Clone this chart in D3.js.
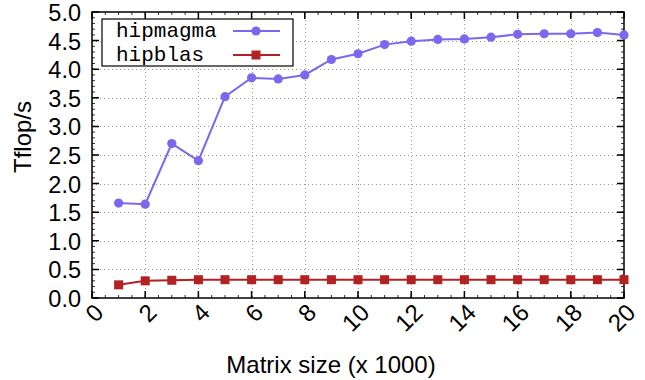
<!DOCTYPE html>
<html>
<head>
<meta charset="utf-8">
<script src="https://d3js.org/d3.v7.min.js"></script>
<style>
  body { margin: 0; background: #fff; }
  text { font-family: "Liberation Sans", Helvetica, Arial, sans-serif; fill: #000; }
</style>
</head>
<body>
<svg id="chart" width="645" height="380"></svg>
<script>
// data
const sizes = [1,2,3,4,5,6,7,8,9,10,11,12,13,14,15,16,17,18,19,20];
const hipmagma = [1.66,1.64,2.70,2.40,3.52,3.85,3.83,3.90,4.17,4.27,4.43,4.49,4.52,4.53,4.56,4.61,4.62,4.62,4.64,4.60];
const hipblas = [0.23,0.30,0.31,0.32,0.32,0.32,0.32,0.32,0.32,0.32,0.32,0.32,0.32,0.32,0.32,0.32,0.32,0.32,0.32,0.32];
const xTicks = [0,2,4,6,8,10,12,14,16,18,20];
const yTicks = [0,0.5,1,1.5,2,2.5,3,3.5,4,4.5,5];
const seriesNames = ['hipmagma', 'hipblas'];
const seriesColors = ['#7b68ee', '#b22222'];

const svg = d3.select('#chart');
const pL = 92, pR = 624, pT = 12, pB = 298;

const xs = d3.scaleLinear().domain([0, 20]).range([pL, pR]);
const ys = d3.scaleLinear().domain([0, 5]).range([pB, pT]);

// grid
const grid = svg.append('g').attr('stroke', '#999').attr('stroke-width', 1).attr('stroke-dasharray', '1,3');
grid.selectAll('.gx').data(xTicks.slice(1, -1)).enter().append('line')
  .attr('x1', d => Math.round(xs(d)) + 0.5).attr('x2', d => Math.round(xs(d)) + 0.5)
  .attr('y1', pT).attr('y2', pB);
grid.selectAll('.gy').data(yTicks.slice(1, -1)).enter().append('line')
  .attr('y1', d => Math.round(ys(d)) + 0.5).attr('y2', d => Math.round(ys(d)) + 0.5)
  .attr('x1', pL).attr('x2', pR);

// ticks (inward, on all four sides)
const ticks = svg.append('g').attr('stroke', '#000');
const yMinor = d3.range(0, 5.001, 0.1);
const xMinor = d3.range(0, 20.001, 0.5);
ticks.selectAll('.ymin').data(yMinor).enter().append('path')
  .attr('stroke-width', 0.8)
  .attr('d', d => { const y = ys(d); return `M${pL},${y}h3M${pR},${y}h-3`; });
ticks.selectAll('.xmin').data(xMinor).enter().append('path')
  .attr('stroke-width', 0.8)
  .attr('d', d => { const x = xs(d); return `M${x},${pB}v-3M${x},${pT}v3`; });
ticks.selectAll('.ymaj').data(yTicks).enter().append('path')
  .attr('stroke-width', 1.5)
  .attr('d', d => { const y = ys(d); return `M${pL},${y}h7M${pR},${y}h-7`; });
ticks.selectAll('.xmaj').data(xTicks).enter().append('path')
  .attr('stroke-width', 1.5)
  .attr('d', d => { const x = xs(d); return `M${x},${pB}v-7M${x},${pT}v7`; });

// border
svg.append('rect').attr('x', pL).attr('y', pT)
  .attr('width', pR - pL).attr('height', pB - pT)
  .attr('fill', 'none').attr('stroke', '#000').attr('stroke-width', 1.5);

// tick labels
svg.selectAll('.ylab').data(yTicks).enter().append('text')
  .attr('x', 81).attr('y', d => ys(d)).attr('dy', '0.38em')
  .attr('text-anchor', 'end').style('font-size', '23.5px')
  .text(d => d.toFixed(1));
svg.selectAll('.xlab').data(xTicks).enter().append('text')
  .attr('transform', d => `translate(${xs(d) + 13},${pB + 16}) rotate(-45)`)
  .attr('text-anchor', 'end').style('font-size', '24px')
  .text(d => d);

// axis titles
svg.append('text').attr('transform', `translate(31,137) rotate(-90)`)
  .attr('text-anchor', 'middle').style('font-size', '24px').text('Tflop/s');
svg.append('text').attr('x', 331).attr('y', 373)
  .attr('text-anchor', 'middle').style('font-size', '24px').text('Matrix size (x 1000)');

// series
const allSeries = [hipmagma, hipblas];
const line = d3.line().x((d, i) => xs(sizes[i])).y(d => ys(d));
allSeries.forEach((vals, k) => {
  svg.append('path').datum(vals).attr('d', line)
    .attr('fill', 'none').attr('stroke', seriesColors[k]).attr('stroke-width', 2);
  if (k === 0) {
    svg.selectAll('.m0').data(vals).enter().append('circle')
      .attr('cx', (d, i) => xs(sizes[i])).attr('cy', d => ys(d)).attr('r', 4.6)
      .attr('fill', seriesColors[k]);
  } else {
    svg.selectAll('.m1').data(vals).enter().append('rect')
      .attr('x', (d, i) => xs(sizes[i]) - 4.5).attr('y', d => ys(d) - 4.5)
      .attr('width', 9).attr('height', 9).attr('fill', seriesColors[k]);
  }
});

// legend
const lg = svg.append('g');
lg.append('rect').attr('x', 102).attr('y', 19).attr('width', 191).attr('height', 47)
  .attr('fill', '#fff').attr('stroke', '#000').attr('stroke-width', 1.2);
seriesNames.forEach((name, k) => {
  const y = 31 + k * 24;
  lg.append('text').attr('x', 116).attr('y', y).attr('dy', '0.3em')
    .style('font-family', '"Liberation Mono", "Courier New", monospace')
    .style('font-size', '21px').text(name);
  lg.append('line').attr('x1', 233).attr('x2', 280).attr('y1', y).attr('y2', y)
    .attr('stroke', seriesColors[k]).attr('stroke-width', 2);
  if (k === 0) {
    lg.append('circle').attr('cx', 256).attr('cy', y).attr('r', 4.6).attr('fill', seriesColors[k]);
  } else {
    lg.append('rect').attr('x', 251.5).attr('y', y - 4.5).attr('width', 9).attr('height', 9)
      .attr('fill', seriesColors[k]);
  }
});
</script>
</body>
</html>
